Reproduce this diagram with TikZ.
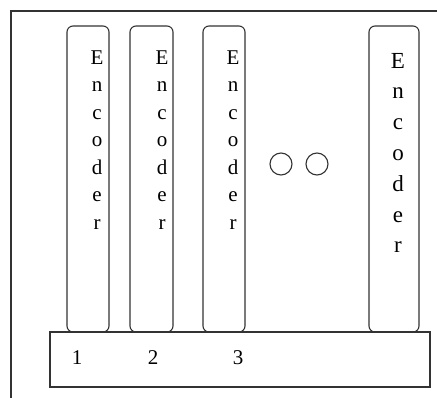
\documentclass[tikz,border=0pt]{standalone}
\usepackage{fontspec}
\setmainfont{Liberation Serif}
\begin{document}
\begin{tikzpicture}[x=1pt,y=-1pt,
  ln/.style={draw=black!80, line width=1.1pt},
  encbox/.style={ln, rounded corners=6pt},
  enctxt/.style={align=center, inner sep=0pt, font=\fontsize{21}{27.5}\selectfont},
  bigtxt/.style={align=center, inner sep=0pt, font=\fontsize{23}{30.8}\selectfont},
  dotc/.style={draw=black!80, line width=1.1pt, circle, minimum size=22pt, inner sep=0pt},
  num/.style={inner sep=0pt, font=\fontsize{21}{22}\selectfont}]
\useasboundingbox (0,0) rectangle (437,398);
\coordinate (fbl) at (11,398);
\coordinate (ftl) at (11,11);
\coordinate (ftr) at (437,11);
\draw[ln] (fbl) -- (ftl) -- (ftr);
\draw[encbox] (67,332) rectangle (109,26);
\draw[encbox] (130,332) rectangle (173,26);
\draw[encbox] (203,332) rectangle (245,26);
\draw[encbox] (369,332) rectangle (419,26);
\node[ln, minimum width=380pt, minimum height=55pt, inner sep=0pt] (base) at (240,359.5) {};
\node[enctxt] (t1) at (97,140) {E\\n\\c\\o\\d\\e\\r};
\node[enctxt] (t2) at (162,140) {E\\n\\c\\o\\d\\e\\r};
\node[enctxt] (t3) at (233,140) {E\\n\\c\\o\\d\\e\\r};
\node[bigtxt] (t4) at (398,153) {E\\n\\c\\o\\d\\e\\r};
\node[dotc] (c1) at (281,164) {};
\node[dotc] (c2) at (317,164) {};
\node[num] (n1) at (77,358) {1};
\node[num] (n2) at (153,358) {2};
\node[num] (n3) at (238,358) {3};
\end{tikzpicture}
\end{document}
